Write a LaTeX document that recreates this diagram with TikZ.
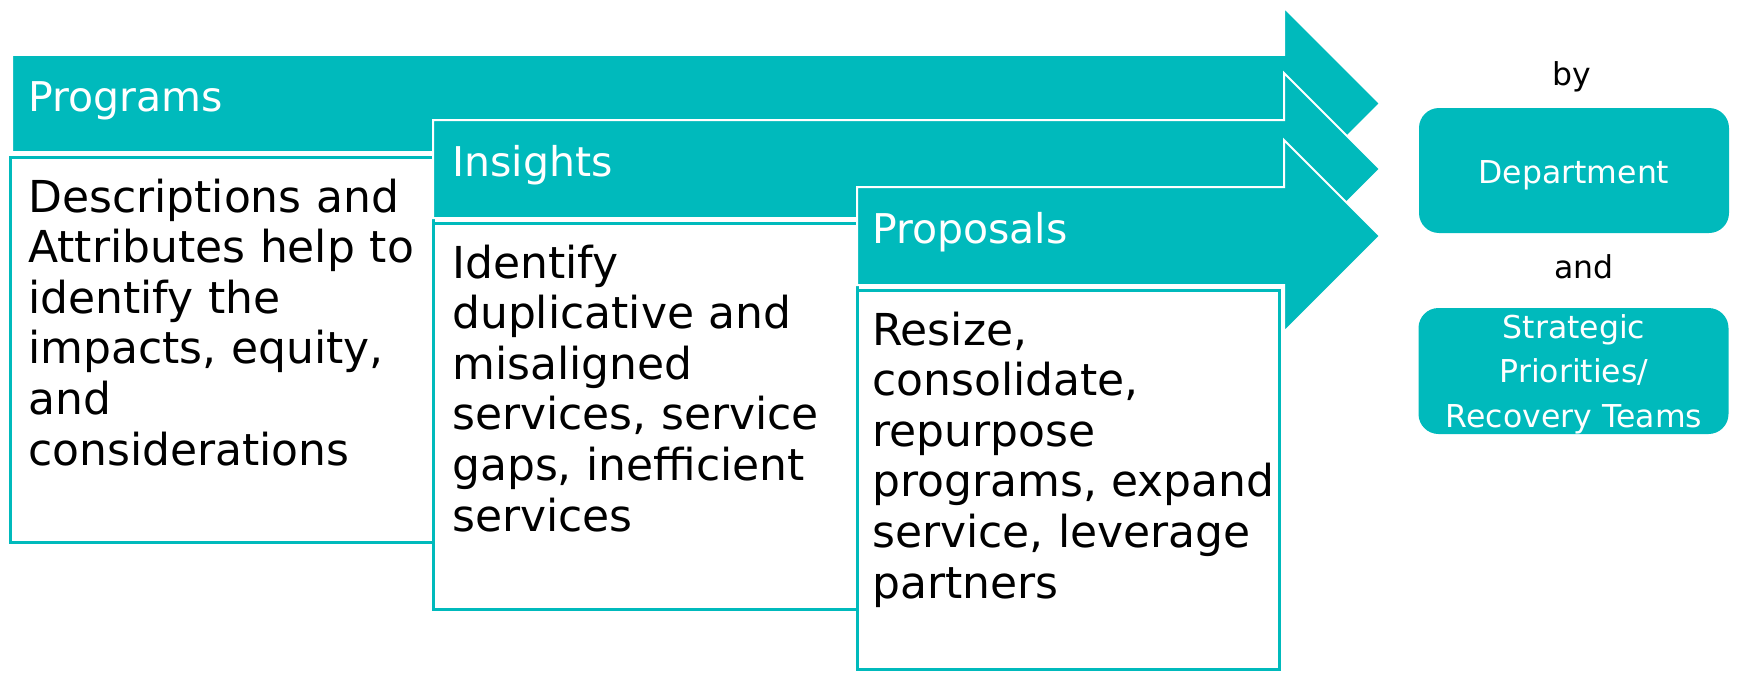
\documentclass[tikz,border=0pt]{standalone}
\usepackage{fontspec}
\setmainfont{DejaVu Sans}
\definecolor{tealfill}{RGB}{0,186,188}
\begin{document}
\begin{tikzpicture}[x=1pt,y=-1pt,
  arrowshape/.style={fill=tealfill, draw=white, line width=2pt},
  textbox/.style={fill=white, draw=tealfill, line width=3pt},
  headtext/.style={anchor=base west, inner sep=0pt, text=white, font=\fontsize{41}{48}\selectfont},
  bodytext/.style={anchor=base west, inner sep=0pt, text width=600pt, align=left, font=\fontsize{44}{50.6}\selectfont},
  roundbox/.style={fill=tealfill, draw=none, rounded corners=20pt, inner sep=0pt, minimum width=310pt},
  sidetext/.style={anchor=base, inner sep=0pt, font=\fontsize{31.5}{44.5}\selectfont},
  boxtext/.style={sidetext, text=white, text width=320pt, align=center}]
\useasboundingbox (0,0) rectangle (1742,685);

% Programs
\draw[arrowshape] (12,55) -- (1284,55) -- (1284,7.5) -- (1380,103.5) -- (1284,199.5) -- (1284,152) -- (12,152) -- cycle;
\node[headtext] (progh) at (28,111) {Programs};
\draw[textbox] (10,157) rectangle (433,542);
\node[bodytext] (progb) at (28,212) {Descriptions and\\Attributes help to\\identify the\\impacts, equity,\\and\\considerations};

% Insights
\draw[arrowshape] (433,120) -- (1284,120) -- (1284,73) -- (1380,169) -- (1284,265) -- (1284,218) -- (433,218) -- cycle;
\node[headtext] (insh) at (452,176) {Insights};
\draw[textbox] (433,223) rectangle (857,609);
\node[bodytext] (insb) at (452,278) {Identify\\duplicative and\\misaligned\\services, service\\gaps, inefficient\\services};

% Proposals
\draw[arrowshape] (857,187) -- (1284,187) -- (1284,140) -- (1380,236) -- (1284,332) -- (1284,285) -- (857,285) -- cycle;
\node[headtext] (proph) at (872,243) {Proposals};
\draw[textbox] (857,290) rectangle (1279,669);
\node[bodytext] (propb) at (872,345) {Resize,\\consolidate,\\repurpose\\programs, expand\\service, leverage\\partners};

% right side
\node[sidetext] (by) at (1572,85) {by};
\node[roundbox, minimum height=125pt] (dept) at (1574,170.5) {};
\node[sidetext, text=white] (deptt) at (1574,183) {Department};
\node[sidetext] (and) at (1584,278) {and};
\node[roundbox, minimum height=126pt] (strat) at (1573.5,371) {};
\node[boxtext] (stratt) at (1574,338) {Strategic\\Priorities/\\Recovery Teams};
\end{tikzpicture}
\end{document}
